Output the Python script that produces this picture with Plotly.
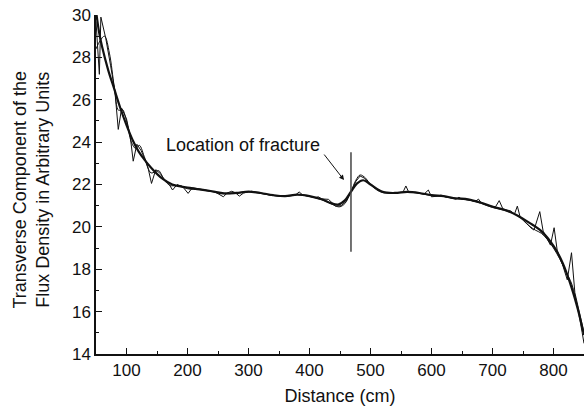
import plotly.graph_objects as go

# Raw measured flux (noisy)
dist_raw = [50, 55.5, 58, 66, 74, 81, 86.5, 92, 100, 106, 111, 117, 124, 130, 136, 141, 148, 156, 163, 170,
            175.5, 183, 192, 201, 208, 220, 232, 245, 258.8, 265, 272.5, 278, 285, 292, 305, 320, 335, 350,
            365, 377, 383, 389, 400, 410, 414.4, 420, 431, 436, 443, 452, 460, 468, 476, 483, 490, 500,
            510, 520, 530, 545, 553, 558, 563, 575, 588, 594.8, 600, 610, 615.6, 622, 635, 640, 645, 650,
            665, 672, 677, 682, 695, 705, 711, 717, 730, 736, 740.7, 745, 755, 763, 768, 772, 777.5, 783,
            790, 795, 801, 806, 815, 822.6, 829.5, 835, 843, 850]
flux_raw = [29.7, 27.2, 29.9, 28.9, 27.6, 26.4, 24.6, 25.6, 25.1, 24.3, 23.1, 23.9, 23.6, 23.2, 22.7, 22.05,
            22.7, 22.5, 22.2, 22.0, 21.74, 22.0, 21.9, 21.58, 21.85, 21.8, 21.72, 21.65, 21.42, 21.6, 21.68,
            21.62, 21.45, 21.6, 21.68, 21.6, 21.5, 21.45, 21.45, 21.5, 21.65, 21.5, 21.45, 21.38, 21.42,
            21.32, 21.3, 21.15, 20.98, 21.0, 21.2, 21.66, 22.15, 22.4, 22.3, 22.0, 21.8, 21.65, 21.6, 21.62,
            21.62, 21.93, 21.62, 21.62, 21.55, 21.74, 21.42, 21.45, 21.5, 21.42, 21.35, 21.3, 21.4, 21.3,
            21.25, 21.2, 21.31, 21.12, 21.0, 20.95, 21.24, 20.85, 20.75, 20.6, 20.98, 20.5, 20.2, 19.95,
            19.85, 20.2, 20.72, 19.8, 19.4, 19.14, 19.96, 18.9, 18.2, 17.5, 18.78, 16.9, 15.9, 15.0]

# Lightly smoothed fit
dist_fit1 = [50, 57, 64, 72, 80, 87, 93, 100, 108, 115, 121, 130, 140, 147, 153, 162, 172, 180, 188, 200,
             220, 240, 260, 280, 300, 320, 340, 360, 380, 400, 420, 435, 443, 450, 458, 468, 476, 483, 492,
             500, 510, 520, 540, 560, 580, 600, 620, 640, 660, 680, 700, 720, 740, 760, 770, 780, 790, 800,
             810, 820, 830, 840, 850]
flux_fit1 = [28.4, 28.8, 29.0, 28.2, 26.6, 25.5, 25.55, 25.0, 24.0, 23.7, 23.85, 23.25, 22.55, 22.6, 22.65,
             22.2, 21.95, 21.95, 21.95, 21.8, 21.76, 21.66, 21.56, 21.6, 21.66, 21.58, 21.48, 21.44, 21.52,
             21.44, 21.28, 21.1, 20.98, 20.95, 21.1, 21.66, 22.2, 22.45, 22.3, 22.0, 21.75, 21.62, 21.6,
             21.65, 21.58, 21.48, 21.44, 21.33, 21.28, 21.12, 20.92, 20.78, 20.55, 20.05, 19.85, 19.7,
             19.4, 19.0, 18.5, 17.9, 17.3, 16.1, 14.5]

# Heavily smoothed fit
dist_fit2 = [50, 55, 60, 70, 80, 90, 100, 110, 120, 130, 140, 150, 160, 175, 190, 200, 220, 240, 260, 280,
             300, 320, 340, 360, 380, 400, 420, 435, 447, 458, 468, 478, 488, 500, 520, 540, 560, 580, 600,
             620, 640, 660, 680, 700, 720, 740, 760, 780, 800, 815, 830, 840, 850]
flux_fit2 = [30.2, 29.2, 28.5, 27.4, 26.5, 25.6, 24.8, 24.1, 23.55, 23.15, 22.8, 22.5, 22.25, 22.0, 21.9,
             21.85, 21.77, 21.68, 21.58, 21.6, 21.66, 21.6, 21.5, 21.45, 21.52, 21.45, 21.3, 21.12, 21.05,
             21.25, 21.66, 22.05, 22.2, 22.0, 21.65, 21.6, 21.65, 21.6, 21.5, 21.45, 21.35, 21.3, 21.15,
             20.95, 20.8, 20.55, 20.2, 19.8, 19.1, 18.3, 17.1, 16.1, 14.9]

fracture_x = 468
fracture_y = [18.83, 23.52]

FONT = "Liberation Sans, Arial, Helvetica, sans-serif"
INK = "#111111"

fig = go.Figure()
fig.add_trace(go.Scatter(x=dist_raw, y=flux_raw, mode="lines",
                         line=dict(color=INK, width=1), showlegend=False))
fig.add_trace(go.Scatter(x=dist_fit1, y=flux_fit1, mode="lines",
                         line=dict(color=INK, width=1, shape="spline", smoothing=1), showlegend=False))
fig.add_trace(go.Scatter(x=dist_fit2, y=flux_fit2, mode="lines",
                         line=dict(color=INK, width=2.2, shape="spline", smoothing=1), showlegend=False))

fig.add_shape(type="line", x0=fracture_x, x1=fracture_x, y0=fracture_y[0], y1=fracture_y[1],
              xref="x", yref="y", line=dict(color="#444444", width=1.5))

fig.add_annotation(x=456.6, y=22.21, xref="x", yref="y", ax=-21, ay=-27,
                   text="", showarrow=True, arrowhead=2, arrowsize=1, arrowwidth=1, arrowcolor=INK)
fig.add_annotation(x=421, y=23.86, xref="x", yref="y", text="Location of fracture",
                   showarrow=False, xanchor="right", yanchor="middle",
                   font=dict(family=FONT, size=18, color=INK))

# y-axis title placed as a rotated annotation in the left margin
fig.add_annotation(xref="paper", yref="paper", x=0, y=0.5, xshift=-65, yshift=-6,
                   text="Transverse Component of the<br>Flux Density in Arbitrary Units",
                   textangle=-90, showarrow=False, xanchor="center", yanchor="middle",
                   font=dict(family=FONT, size=18, color=INK))

fig.update_layout(
    width=584, height=406,
    margin=dict(l=96, r=0, t=15, b=52, autoexpand=False),
    paper_bgcolor="white", plot_bgcolor="white",
    font=dict(family=FONT, size=17, color=INK),
    xaxis=dict(range=[50, 850], dtick=100, tick0=0, ticks="inside", ticklen=6, tickwidth=1.2,
               tickcolor=INK, showline=True, linecolor=INK, linewidth=1.5, showgrid=False,
               zeroline=False, automargin=False,
               minor=dict(dtick=50, tick0=0, ticks="inside", ticklen=3, tickcolor=INK, showgrid=False),
               title=dict(text="Distance (cm)", font=dict(size=18)), tickfont=dict(size=17)),
    yaxis=dict(range=[14, 30], dtick=2, tick0=0, ticks="inside", ticklen=6, tickwidth=1.2,
               tickcolor=INK, showline=True, linecolor=INK, linewidth=1.5, showgrid=False,
               zeroline=False, automargin=False,
               minor=dict(dtick=1, tick0=0, ticks="inside", ticklen=3, tickcolor=INK, showgrid=False),
               tickfont=dict(size=17)),
)

fig.write_html("out.html", config={"displayModeBar": False},
               post_script="document.body.style.margin='0';document.body.style.overflow='hidden';")
